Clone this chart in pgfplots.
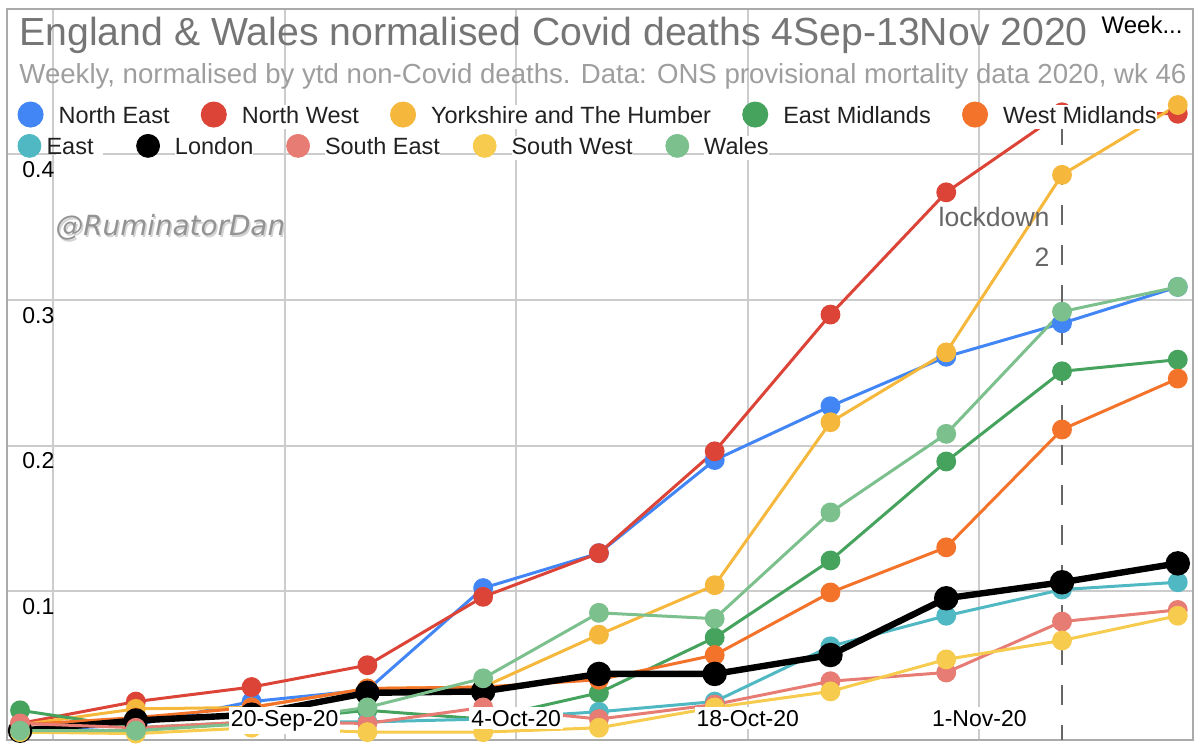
\documentclass[border=0pt]{standalone}
\usepackage{fontspec}
\setmainfont{Liberation Sans}
\newfontfamily\wmfont{DejaVu Sans}
\usepackage{pgfplots}
\usepackage{pgfplotstable}
\pgfplotsset{compat=1.18}

\definecolor{cNE}{HTML}{4285F4}
\definecolor{cNW}{HTML}{DB4437}
\definecolor{cYH}{HTML}{F5B83D}
\definecolor{cEM}{HTML}{46A35E}
\definecolor{cWM}{HTML}{F4732B}
\definecolor{cE}{HTML}{4FB8C2}
\definecolor{cSE}{HTML}{E67C73}
\definecolor{cSW}{HTML}{F7CB4D}
\definecolor{cWA}{HTML}{7CC08D}
\definecolor{ctitle}{HTML}{757575}
\definecolor{csub}{HTML}{9E9E9E}
\definecolor{ctext}{HTML}{212121}
\definecolor{cgrid}{HTML}{CCCCCC}
\definecolor{cframe}{HTML}{AAAAAA}
\definecolor{cdash}{HTML}{666666}

\pgfplotstableread{
day NE NW YH EM WM E LO SE SW WA
0  0.004 0.009 0.008 0.018 0.008 0.004 0.004 0.009 0.003 0.004
7  0.008 0.024 0.019 0.006 0.013 0.004 0.011 0.006 0.002 0.004
14 0.024 0.034 0.020 0.010 0.020 0.010 0.015 0.010 0.006 0.009
21 0.032 0.049 0.033 0.018 0.033 0.010 0.030 0.009 0.003 0.020
28 0.102 0.096 0.034 0.012 0.034 0.012 0.031 0.020 0.003 0.040
35 0.126 0.126 0.070 0.030 0.039 0.017 0.043 0.012 0.006 0.085
42 0.190 0.196 0.104 0.068 0.056 0.024 0.043 0.022 0.020 0.081
49 0.227 0.290 0.216 0.121 0.099 0.062 0.056 0.038 0.031 0.154
56 0.261 0.374 0.264 0.189 0.130 0.083 0.095 0.044 0.053 0.208
63 0.284 0.429 0.386 0.251 0.211 0.101 0.106 0.079 0.066 0.292
70 0.309 0.428 0.434 0.259 0.246 0.106 0.119 0.087 0.083 0.309
}\deaths

\tikzset{
  xlab/.style={anchor=base, fill=white, inner xsep=1pt, inner ysep=1.5pt, yshift=7pt,
    font=\fontsize{11.5}{13}\selectfont, text=black},
}
\pgfplotsset{
  base/.style={
    width=593pt, height=365.5pt, scale only axis,
    xmin=-0.79, xmax=70.92, ymin=-0.0024, ymax=0.5,
    clip=false,
  },
  series/.style={color=#1, line width=1.5pt, mark=*, mark size=4.2pt, mark options={solid, fill=#1, draw=none}},
  legimg/.style={
    legend image code/.code={\fill[##1] (5.75pt,1pt) circle (5.75pt);},
  },
  legstyle/.style 2 args={
    legend columns=-1,
    legend style={draw=none, fill=none, inner sep=0pt, outer sep=0pt,
      at={(axis cs:-0.151,#1)}, anchor=west,
      font=\fontsize{11.75}{14}\selectfont, text=ctext,
      nodes={inner xsep=0pt, inner ysep=1pt, fill=white},
      cells={anchor=west},
      /tikz/every odd column/.append style={column sep=7.5pt},
      /tikz/every even column/.append style={column sep=#2}},
  },
}

\begin{document}
\begin{tikzpicture}
\begin{axis}[base, at={(0,0)}, anchor=south west,
  axis line style={draw=cframe, line width=1pt},
  grid=major, grid style={draw=cgrid, line width=1pt},
  major tick length=0pt,
  xtick={2,16,30,44,58},
  xticklabels={},
  ytick={0.1,0.2,0.3,0.4},
  yticklabels={0.1,0.2,0.3,0.4},
  tick label style={font=\fontsize{11.5}{13}\selectfont, text=black},
  yticklabel style={anchor=north west, inner sep=0pt, xshift=7.5pt, yshift=-3.5pt},
  legimg, legstyle={0.4271}{15.6pt},
]
\addplot[series=cNE] table[x=day,y=NE] {\deaths};
\addplot[series=cNW] table[x=day,y=NW] {\deaths};
\addplot[series=cYH] table[x=day,y=YH] {\deaths};
\addplot[series=cEM] table[x=day,y=EM] {\deaths};
\addplot[series=cWM] table[x=day,y=WM] {\deaths};
\addplot[series=cE] table[x=day,y=E] {\deaths};
\addplot[series=black, line width=3.2pt, mark size=4.5pt] table[x=day,y=LO] {\deaths};
\addplot[series=cSE] table[x=day,y=SE] {\deaths};
\addplot[series=cSW] table[x=day,y=SW] {\deaths};
\addplot[series=cWA] table[x=day,y=WA] {\deaths};
\legend{North East,North West,Yorkshire and The Humber,East Midlands,West Midlands}
\addplot[forget plot, draw=cdash, line width=1.2pt, dash pattern=on 10pt off 10pt] coordinates {(63,0.4203) (63,-0.0024)};

\coordinate (t1) at (axis cs:16,-0.0024);
\coordinate (t2) at (axis cs:30,-0.0024);
\coordinate (t3) at (axis cs:44,-0.0024);
\coordinate (t4) at (axis cs:58,-0.0024);
\coordinate (lk1) at (axis cs:62.27,0.3502);
\coordinate (lk2) at (axis cs:62.27,0.3227);

\node[anchor=base west, inner sep=0pt, font=\fontsize{19.6}{22}\selectfont, text=ctitle] at (axis cs:-0.06,0.4746) {England \& Wales normalised Covid deaths 4Sep-13Nov 2020};
\node[anchor=base west, inner sep=0pt, font=\fontsize{13.8}{16}\selectfont, text=csub] at (axis cs:-0.06,0.449) {Weekly, normalised by ytd non-Covid deaths. Data: ONS provisional mortality data 2020, wk 46};
\node[anchor=base east, inner sep=0pt, font=\fontsize{12}{14}\selectfont, text=black] at (axis cs:70.31,0.4832) {Week...};
\node[anchor=base west, inner sep=0pt, font=\wmfont\itshape\fontsize{13.9}{16}\selectfont, text=gray!35, xshift=0.8pt, yshift=-0.8pt] at (axis cs:2.12,0.344) {@RuminatorDan};
\node[anchor=base west, inner sep=0pt, font=\wmfont\itshape\fontsize{13.9}{16}\selectfont, text=gray!85!white] at (axis cs:2.12,0.344) {@RuminatorDan};
\end{axis}
\begin{axis}[base, at={(0,0)}, anchor=south west, hide axis,
  legimg, legstyle={0.4052}{16.4pt}]
\addplot[draw=none, forget plot] coordinates {(0,0.1)};
\addlegendimage{color=cE}
\addlegendentry{\hspace*{-4.9pt}East\hspace*{4.9pt}}
\addlegendimage{color=black}
\addlegendentry{London}
\addlegendimage{color=cSE}
\addlegendentry{South East}
\addlegendimage{color=cSW}
\addlegendentry{South West}
\addlegendimage{color=cWA}
\addlegendentry{Wales}
\end{axis}
\node[xlab] at (t1) {20-Sep-20};
\node[xlab] at (t2) {4-Oct-20};
\node[xlab] at (t3) {18-Oct-20};
\node[xlab] at (t4) {1-Nov-20};
\node[anchor=base east, inner sep=0pt, font=\fontsize{13.3}{15}\selectfont, text=cdash] at (lk1) {lockdown};
\node[anchor=base east, inner sep=0pt, font=\fontsize{13.3}{15}\selectfont, text=cdash] at (lk2) {2};
\path (-3.5pt,-3.5pt) rectangle (596.5pt,370pt);
\end{tikzpicture}
\end{document}
